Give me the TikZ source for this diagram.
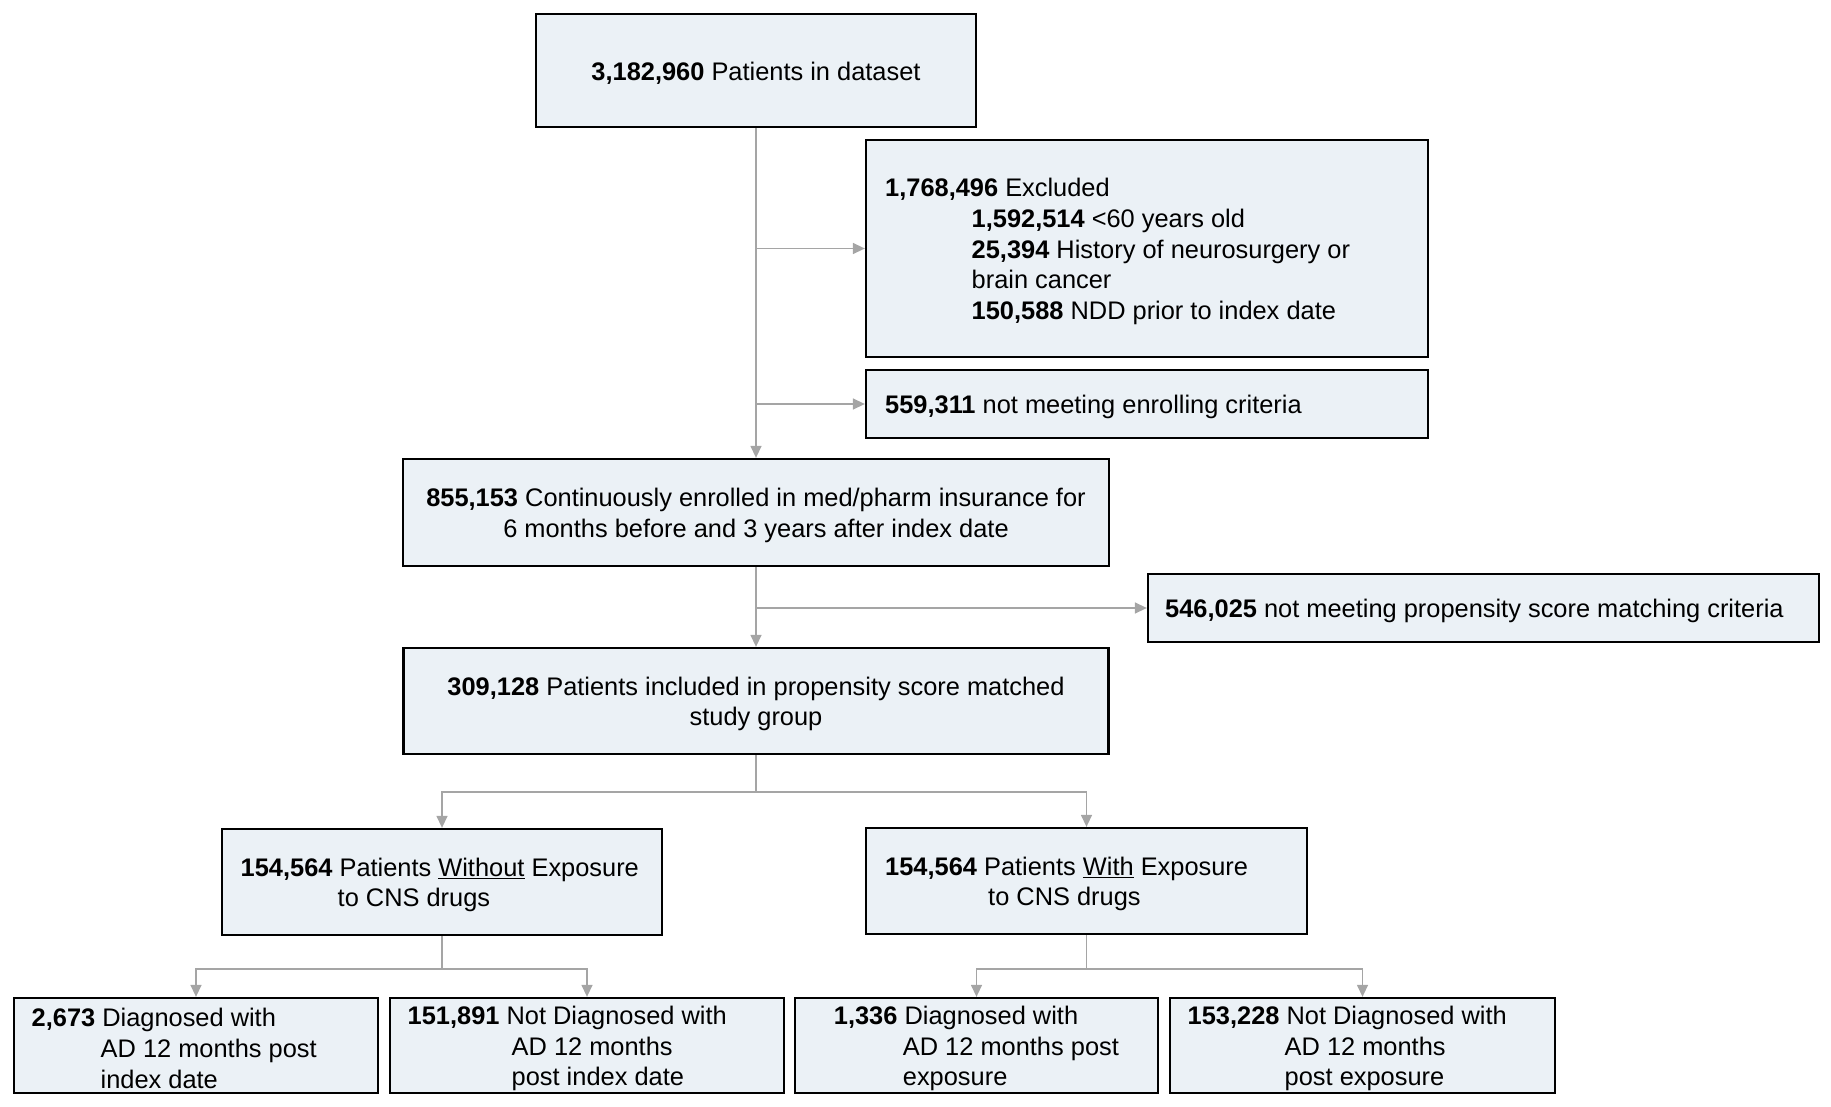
\documentclass[tikz,border=0pt]{standalone}
\usepackage{fontspec}
\setmainfont{Liberation Sans}
\usetikzlibrary{arrows.meta}
\definecolor{boxfill}{RGB}{235,241,246}
\definecolor{linegray}{RGB}{165,165,165}
\begin{document}
\begin{tikzpicture}[x=1pt,y=-1pt,
  box/.style={draw=black, line width=2.3pt, fill=boxfill, inner sep=0pt},
  txt/.style={inner sep=0pt, font=\fontsize{25.4}{30.8}\selectfont, align=left, yshift=-3pt},
  ctxt/.style={txt, align=center},
  conn/.style={draw=linegray, line width=1.4pt},
  arr/.style={conn, -{Triangle[length=12pt,width=11pt]}}]
\useasboundingbox (0,0) rectangle (1831,1107);
% boxes
\node[box, minimum width=440pt, minimum height=113pt] (top) at (756,70.5) {};
\node[box, minimum width=562pt, minimum height=217pt] (excl) at (1147,248.5) {};
\node[box, minimum width=562pt, minimum height=68pt] (enr) at (1147,404) {};
\node[box, minimum width=706pt, minimum height=107pt] (cont) at (756,512.5) {};
\node[box, minimum width=671pt, minimum height=68pt] (psm) at (1483.5,608) {};
\node[box, minimum width=705pt, minimum height=106pt] (incl) at (756,701) {};
\node[box, minimum width=440pt, minimum height=106pt] (wo) at (442,882) {};
\node[box, minimum width=441pt, minimum height=106pt] (wi) at (1086.5,881) {};
\node[box, minimum width=364pt, minimum height=95pt] (b1) at (196,1045.5) {};
\node[box, minimum width=394pt, minimum height=95pt] (b2) at (587,1045.5) {};
\node[box, minimum width=363pt, minimum height=95pt] (b3) at (976.5,1045.5) {};
\node[box, minimum width=385pt, minimum height=95pt] (b4) at (1362.5,1045.5) {};
% texts
\node[ctxt] (topt) at (top.center) {\textbf{3,182,960} Patients in dataset};
\node[txt, anchor=west] (exclt) at (885,248.5) {\textbf{1,768,496} Excluded\\
  \hspace*{86.5pt}\textbf{1,592,514} <60 years old\\
  \hspace*{86.5pt}\textbf{25,394} History of neurosurgery or\\
  \hspace*{86.5pt}brain cancer\\
  \hspace*{86.5pt}\textbf{150,588} NDD prior to index date};
\node[txt, anchor=west] (enrt) at (885,404) {\textbf{559,311} not meeting enrolling criteria};
\node[ctxt] (contt) at (cont.center) {\textbf{855,153} Continuously enrolled in med/pharm insurance for\\6 months before and 3 years after index date};
\node[txt, anchor=west] (psmt) at (1165,608) {\textbf{546,025} not meeting propensity score matching criteria};
\node[ctxt] (inclt) at (incl.center) {\textbf{309,128} Patients included in propensity score matched\\study group};
\node[txt, anchor=west] (wot) at (240.5,882) {\textbf{154,564} Patients \underline{Without} Exposure\\\hspace*{97pt}to CNS drugs};
\node[txt, anchor=west] (wit) at (885,881) {\textbf{154,564} Patients \underline{With} Exposure\\\hspace*{103pt}to CNS drugs};
\node[txt, anchor=west] (b1t) at (31.5,1045.5) {\textbf{2,673} Diagnosed with\\\hspace*{69pt}AD 12 months post\\\hspace*{69pt}index date};
\node[txt, anchor=west] (b2t) at (407.5,1045.5) {\textbf{151,891} Not Diagnosed with\\\hspace*{104pt}AD 12 months\\\hspace*{104pt}post index date};
\node[txt, anchor=west] (b3t) at (833.7,1045.5) {\textbf{1,336} Diagnosed with\\\hspace*{69pt}AD 12 months post\\\hspace*{69pt}exposure};
\node[txt, anchor=west] (b4t) at (1187.5,1045.5) {\textbf{153,228} Not Diagnosed with\\\hspace*{97pt}AD 12 months\\\hspace*{97pt}post exposure};
% connectors
\draw[arr] (top.south) -- (cont.north);
\draw[arr] (excl.west -| top.south) -- (excl.west);
\draw[arr] (enr.west -| top.south) -- (enr.west);
\draw[arr] (cont.south) -- (incl.north);
\draw[arr] (psm.west -| cont.south) -- (psm.west);
\coordinate (s1) at (756,792);
\draw[conn] (incl.south) -- (s1);
\draw[arr] (s1) -| (wo.north);
\draw[arr] (s1) -| (wi.north);
\coordinate (s2) at (442,969);
\draw[conn] (wo.south) -- (s2);
\draw[arr] (s2) -| (b1.north);
\draw[arr] (s2) -| (b2.north);
\coordinate (s3) at (1086.5,969);
\draw[conn] (wi.south) -- (s3);
\draw[arr] (s3) -| (b3.north);
\draw[arr] (s3) -| (b4.north);
\end{tikzpicture}
\end{document}
